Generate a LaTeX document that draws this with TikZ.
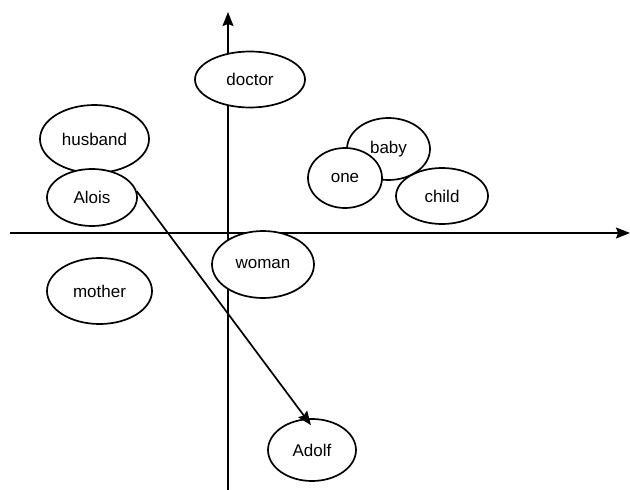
\documentclass[tikz,border=0pt]{standalone}
\usepackage{fontspec}
\setmainfont{Liberation Sans}
\usetikzlibrary{shapes.geometric,arrows.meta}
\begin{document}
\begin{tikzpicture}[x=1pt,y=-1pt,
  bubble/.style={ellipse,draw,line width=1.7pt,fill=white,inner sep=0pt,font=\fontsize{17}{19}\selectfont},
  axis/.style={line width=1.7pt,-{Stealth[length=14pt,width=11pt,inset=2pt]}},
  link/.style={line width=1.7pt,-{Stealth[length=14pt,width=11pt,inset=2pt]}}]
\useasboundingbox (0,0) rectangle (630,490);
\coordinate (xs) at (10,233);
\coordinate (xe) at (630,233);
\coordinate (ys) at (228,492);
\coordinate (ye) at (228,12);
\draw[axis] (xs) -- (xe);
\draw[axis] (ys) -- (ye);
\node[bubble,minimum width=110pt,minimum height=56pt] (doctor) at (250,79.5) {doctor};
\node[bubble,minimum width=109pt,minimum height=68pt] (husband) at (94.5,139) {husband};
\node[bubble,minimum width=90pt,minimum height=57pt] (alois) at (92,197.5) {Alois};
\node[bubble,minimum width=83pt,minimum height=62pt] (baby) at (388.5,149) {baby};
\node[bubble,minimum width=74pt,minimum height=60pt] (one) at (345,178) {one};
\node[bubble,minimum width=92pt,minimum height=56pt] (child) at (442,196) {child};
\node[bubble,minimum width=102pt,minimum height=67pt] (woman) at (263,264.5) {woman};
\node[bubble,minimum width=105pt,minimum height=66pt] (mother) at (99.5,291) {mother};
\node[bubble,minimum width=88pt,minimum height=62pt] (adolf) at (312,450) {Adolf};
\draw[link] (alois.8) -- ([shift={(-1,7)}]adolf.north);
\end{tikzpicture}
\end{document}
